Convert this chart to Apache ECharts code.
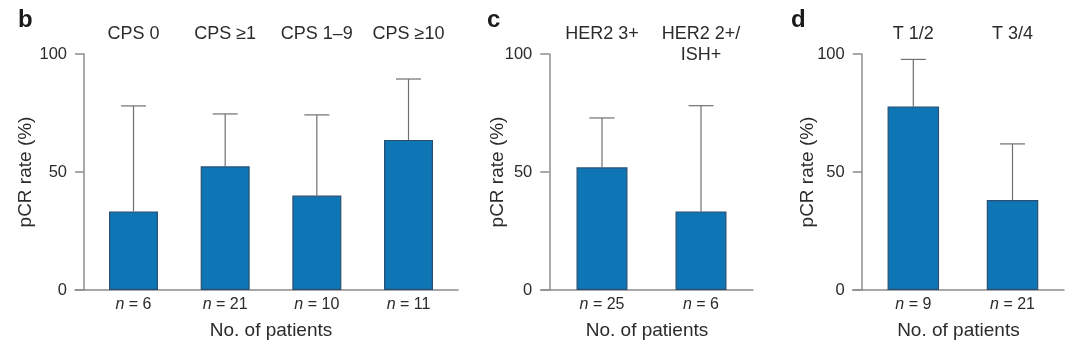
<!DOCTYPE html>
<html>
<head>
<meta charset="utf-8">
<script src="https://cdn.jsdelivr.net/npm/echarts@6/dist/echarts.min.js"></script>
<style>html,body{margin:0;padding:0;background:#fff}#c{width:1080px;height:348px}</style>
</head>
<body>
<div id="c"></div>
<script>
// ---- data ----
const bCats = ['CPS 0', 'CPS \u22651', 'CPS 1\u20139', 'CPS \u226510'];
const bN = [6, 21, 10, 11];
const bRate = [33.3, 52.4, 40.0, 63.6];
const bUpper = [78.0, 74.6, 74.2, 89.4];

const cCats = ['HER2 3+', 'HER2 2+/\nISH+'];
const cN = [25, 6];
const cRate = [52.0, 33.3];
const cUpper = [72.9, 78.1];

const dCats = ['T 1/2', 'T 3/4'];
const dN = [9, 21];
const dRate = [77.8, 38.1];
const dUpper = [97.7, 61.9];

const yTicks = [0, 50, 100];
const panelLetters = ['b', 'c', 'd'];

// ---- styling ----
const FONT = 'Liberation Sans';
const TXT = '#2b2b2b';
const AX = '#8c8c8c';
const BAR = '#0f76b6';
const BAR_EDGE = '#2a4f72';
const ERR = '#6f6f6f';

const panels = [
  {cats: bCats, n: bN, rate: bRate, upper: bUpper, main: {left: 87.67, width: 366.67}, decor: {left: 75, width: 383}, yOff: 3.67, barW: 49, nameShift: 0, yGap: 49},
  {cats: cCats, n: cN, rate: cRate, upper: cUpper, main: {left: 552.5, width: 198}, decor: {left: 541, width: 212}, yOff: 3.2, barW: 51, nameShift: 9, yGap: 42},
  {cats: dCats, n: dN, rate: dRate, upper: dUpper, main: {left: 863.7, width: 198.4}, decor: {left: 852.7, width: 211.3}, yOff: 2, barW: 51.5, nameShift: 9, yGap: 44}
];

const grid = [], xAxis = [], yAxis = [], series = [];
panels.forEach((p, i) => {
  const gMain = grid.length;
  grid.push({left: p.main.left, width: p.main.width, top: 54, height: 236});
  const gDec = grid.length;
  grid.push({left: p.decor.left, width: p.decor.width, top: 54, height: 236});

  const xb = xAxis.length;
  xAxis.push({
    type: 'category', gridIndex: gMain, data: p.n.map(v => '{i|n} = ' + v), position: 'bottom',
    axisLine: {show: false}, axisTick: {show: false},
    axisLabel: {interval: 0, margin: 7, fontFamily: FONT, fontSize: 16, color: TXT, rich: {i: {fontStyle: 'italic', fontFamily: FONT, fontSize: 16, color: TXT}}},
    name: 'No. of patients', nameLocation: 'middle', nameGap: 31, nameMoveOverlap: false,
    nameTextStyle: {fontFamily: FONT, fontSize: 19, color: TXT, padding: [0, p.nameShift, 0, 0]}
  });
  xAxis.push({
    type: 'category', gridIndex: gMain, data: p.cats, position: 'top',
    axisLine: {show: false}, axisTick: {show: false},
    axisLabel: {interval: 0, hideOverlap: false, margin: 31, verticalAlign: 'top', fontFamily: FONT, fontSize: 18, lineHeight: 21.6, color: TXT}
  });
  xAxis.push({
    type: 'value', gridIndex: gDec, min: 0, max: 1, position: 'bottom',
    axisLine: {show: true, lineStyle: {color: AX, width: 1.5}},
    axisTick: {show: false}, axisLabel: {show: false}, splitLine: {show: false}
  });

  const yb = yAxis.length;
  yAxis.push({
    type: 'value', gridIndex: gMain, min: 0, max: 100, interval: 50, offset: p.yOff,
    axisLine: {show: true, lineStyle: {color: AX, width: 1.5}},
    axisTick: {show: true, inside: false, length: 9, lineStyle: {color: AX, width: 1.5}},
    axisLabel: {margin: 17, fontFamily: FONT, fontSize: 16.5, color: TXT,
      formatter: v => (yTicks.indexOf(v) >= 0 ? String(v) : '')},
    splitLine: {show: false},
    name: 'pCR rate (%)', nameLocation: 'middle', nameGap: p.yGap, nameMoveOverlap: false,
    nameTextStyle: {fontFamily: FONT, fontSize: 19, color: TXT}
  });
  yAxis.push({type: 'value', gridIndex: gDec, min: 0, max: 1, show: false});

  series.push({
    type: 'bar', xAxisIndex: xb, yAxisIndex: yb, data: p.rate, barWidth: p.barW,
    itemStyle: {color: BAR, borderColor: BAR_EDGE, borderWidth: 1.2}, z: 2, silent: true
  });
  series.push({
    type: 'custom', xAxisIndex: xb, yAxisIndex: yb, z: 1, silent: true,
    data: p.rate.map((r, k) => [k, r, p.upper[k]]),
    renderItem: (params, api) => {
      const x = api.value(0);
      const lo = api.coord([x, api.value(1)]);
      const hi = api.coord([x, api.value(2)]);
      const half = 12.5;
      return {
        type: 'group',
        children: [
          {type: 'line', shape: {x1: lo[0], y1: lo[1], x2: hi[0], y2: hi[1]}, style: {stroke: ERR, lineWidth: 1.2}},
          {type: 'line', shape: {x1: hi[0] - half, y1: hi[1], x2: hi[0] + half, y2: hi[1]}, style: {stroke: ERR, lineWidth: 1.2}}
        ]
      };
    }
  });
});

const title = [
  {text: panelLetters[0], left: 13, top: 3},
  {text: panelLetters[1], left: 482, top: 3},
  {text: panelLetters[2], left: 786, top: 3}
].map(t => Object.assign(t, {textStyle: {fontFamily: FONT, fontWeight: 'bold', fontSize: 24, color: '#1a1a1a'}}));

const chart = echarts.init(document.getElementById('c'), null, {renderer: 'canvas'});
chart.setOption({animation: false, backgroundColor: '#fff', title, grid, xAxis, yAxis, series});
</script>
</body>
</html>
